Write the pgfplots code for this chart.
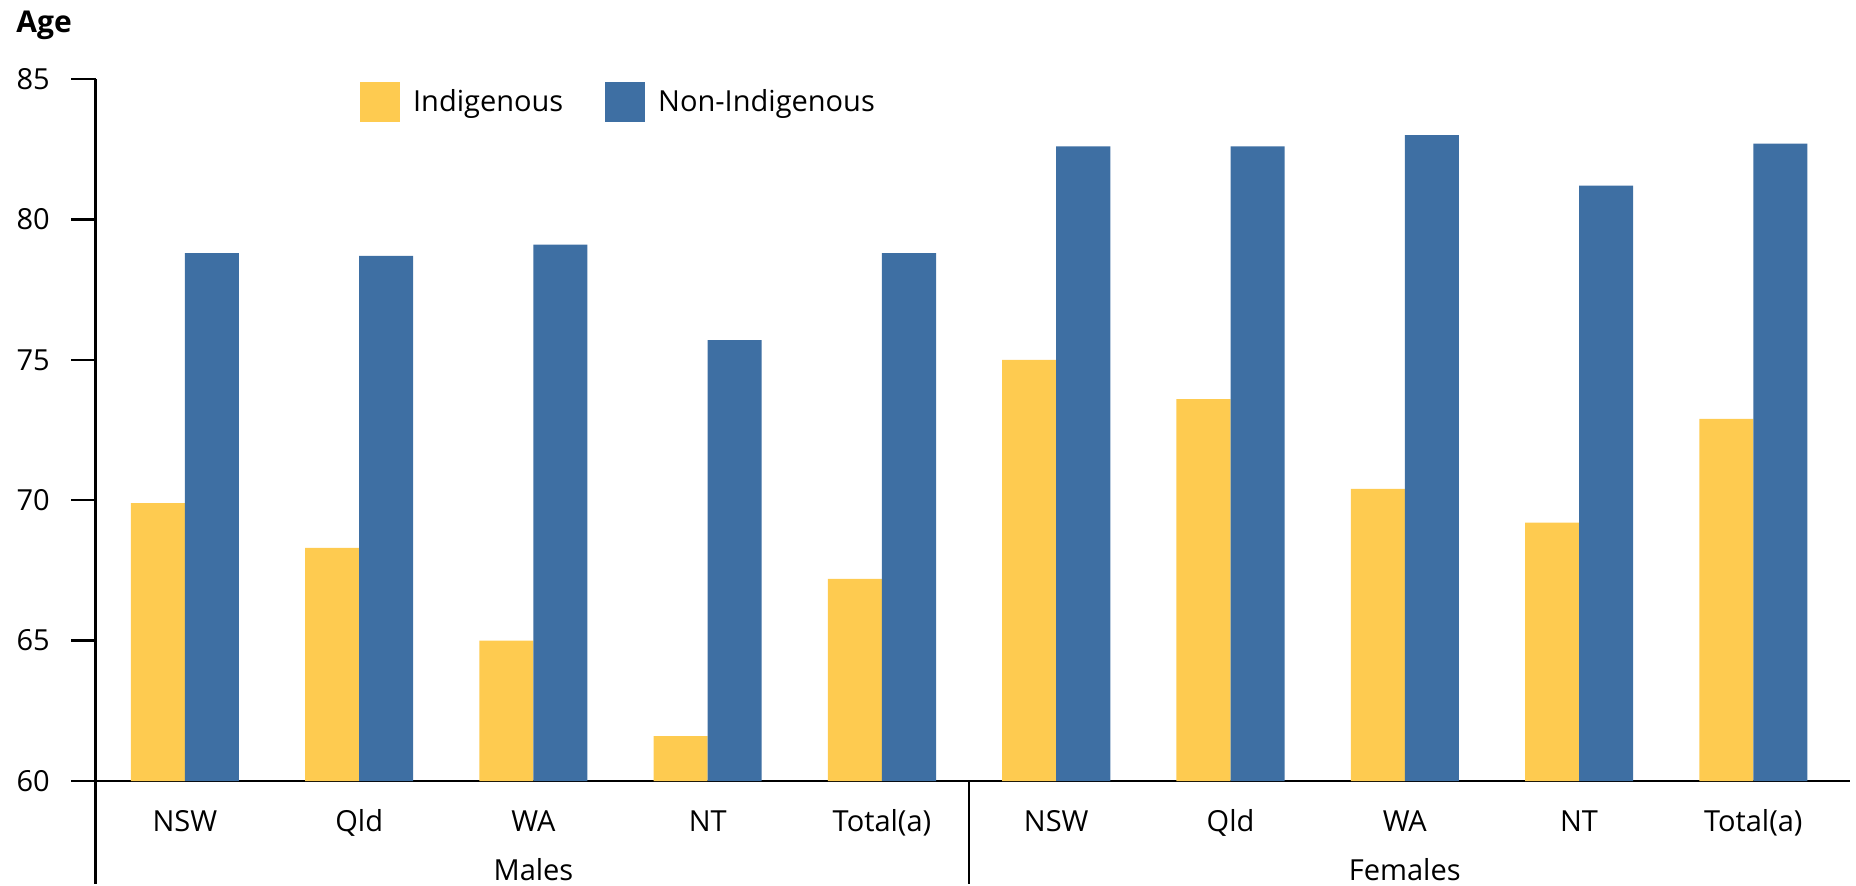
\documentclass[border=0pt]{standalone}
\usepackage{fontspec}
\setmainfont{Open Sans}
\usepackage{pgfplots}
\pgfplotsset{compat=1.18}
\definecolor{indig}{RGB}{254,203,80}
\definecolor{nonindig}{RGB}{62,111,163}

\begin{document}
\begin{tikzpicture}
\useasboundingbox (-47.85pt,-52pt) rectangle (880.15pt,390.5pt);
\begin{axis}[
  at={(0pt,0pt)}, anchor=south west,
  scale only axis,
  width=877.15pt, height=351pt,
  xmin=-0.512, xmax=9.555,
  ymin=60, ymax=85,
  ytick={60,65,70,75,80,85},
  xtick={0,1,2,3,4,5,6,7,8,9},
  xticklabels={NSW,Qld,WA,NT,Total(a),NSW,Qld,WA,NT,Total(a)},
  axis x line*=bottom, axis y line*=left,
  axis line style={line width=1.2pt, black},
  tick align=outside,
  major tick length=12.3pt,
  ytick style={line width=1.2pt, black},
  xtick style={draw=none},
  /pgf/number format/assume math mode=true,
  ticklabel style={font=\fontsize{14.5}{17}\selectfont},
  yticklabel style={inner sep=0pt, xshift=-10.5pt},
  xticklabel style={anchor=base, inner sep=0pt, yshift=-13pt},
  ybar=0pt, bar width=0.31,
  clip=false,
  legend columns=2,
  legend style={draw=none, fill=none, inner sep=0pt, at={(0.1505,0.996)}, anchor=north west,
    font=\fontsize{14.5}{17}\selectfont,
    nodes={inner sep=0pt},
    /tikz/every odd column/.append style={column sep=6.5pt},
    /tikz/every even column/.append style={column sep=21pt}},
  legend cell align=left,
]
\addplot[fill=indig, draw=none,
  legend image code/.code={\fill[indig] (0pt,-10pt) rectangle (20pt,10pt);}]
  coordinates {(0,69.9) (1,68.3) (2,65.0) (3,61.6) (4,67.2)
               (5,75.0) (6,73.6) (7,70.4) (8,69.2) (9,72.9)};
\addlegendentry{Indigenous}
\addplot[fill=nonindig, draw=none,
  legend image code/.code={\fill[nonindig] (0pt,-10pt) rectangle (20pt,10pt);}]
  coordinates {(0,78.8) (1,78.7) (2,79.1) (3,75.7) (4,78.8)
               (5,82.6) (6,82.6) (7,83.0) (8,81.2) (9,82.7)};
\addlegendentry{Non-Indigenous}
\draw[line width=1.2pt] (axis cs:-0.512,60) -- (axis cs:-0.512,56.35);
\draw[line width=1pt] (axis cs:4.5,60) -- (axis cs:4.5,56.35);
\node[anchor=base, inner sep=0pt, font=\fontsize{14.5}{17}\selectfont] at (axis cs:2,56.45) {Males};
\node[anchor=base, inner sep=0pt, font=\fontsize{14.5}{17}\selectfont] at (axis cs:7,56.45) {Females};
\end{axis}
\node[anchor=base west, inner sep=0pt, font=\bfseries\fontsize{15}{18}\selectfont] at (-39.85pt,374pt) {Age};
\end{tikzpicture}
\end{document}
